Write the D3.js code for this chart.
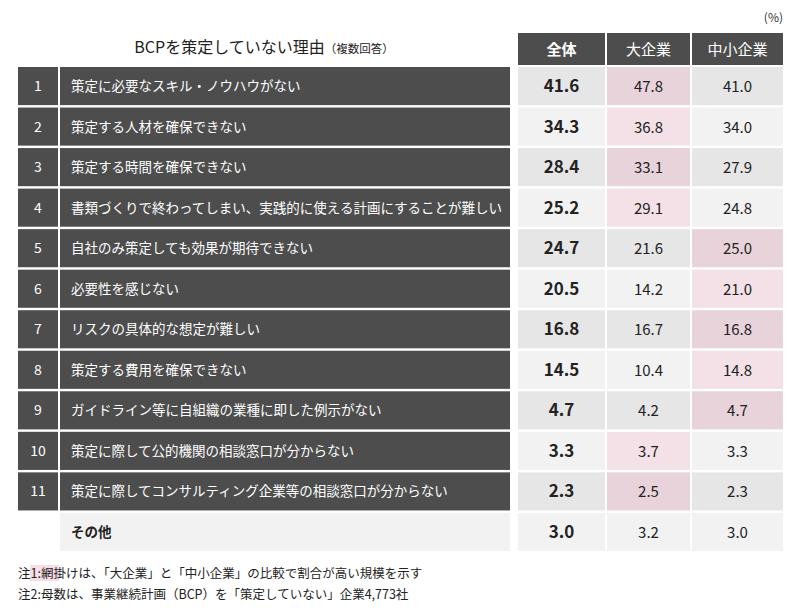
<!DOCTYPE html>
<html><head><meta charset="utf-8">
<script src="https://cdn.jsdelivr.net/npm/d3@7"></script>
<style>body{margin:0;background:#fff;font-family:"Noto Sans CJK JP",sans-serif}</style>
</head><body>
<script>
// 理由と割合（%）
var reasons = ["策定に必要なスキル・ノウハウがない","策定する人材を確保できない","策定する時間を確保できない",
  "書類づくりで終わってしまい、実践的に使える計画にすることが難しい","自社のみ策定しても効果が期待できない",
  "必要性を感じない","リスクの具体的な想定が難しい","策定する費用を確保できない",
  "ガイドライン等に自組織の業種に即した例示がない","策定に際して公的機関の相談窓口が分からない",
  "策定に際してコンサルティング企業等の相談窓口が分からない","その他"];
var total = [41.6,34.3,28.4,25.2,24.7,20.5,16.8,14.5,4.7,3.3,2.3,3.0];
var large = [47.8,36.8,33.1,29.1,21.6,14.2,16.7,10.4,4.2,3.7,2.5,3.2];
var small = [41.0,34.0,27.9,24.8,25.0,21.0,16.8,14.8,4.7,3.3,2.3,3.0];
var heads = ["全体","大企業","中小企業"];

var W = 800, H = 610;
var svg = d3.select("body").append("svg").attr("width", W).attr("height", H);

var y = d3.scaleBand().domain(d3.range(reasons.length)).range([67, 551]).paddingInner(0.06).paddingOuter(0);
var cols = [{x:518,w:87},{x:607,w:83},{x:692,w:91}];

svg.append("text").attr("x",783).attr("y",22).attr("text-anchor","end").attr("font-size",12).attr("fill","#333").text("(%)");
var t = svg.append("text").attr("x",264).attr("y",53).attr("text-anchor","middle").attr("fill","#222");
t.append("tspan").attr("font-size",16).text("BCPを策定していない理由");
t.append("tspan").attr("font-size",11.5).text("（複数回答）");

heads.forEach(function(h,i){
  svg.append("rect").attr("x",cols[i].x).attr("y",33).attr("width",cols[i].w).attr("height",32).attr("fill","#4d4d4d");
  svg.append("text").attr("x",cols[i].x+cols[i].w/2).attr("y",55).attr("text-anchor","middle")
    .attr("font-size",15).attr("font-weight", i==0?"bold":"normal").attr("fill","#fff").text(h);
});

reasons.forEach(function(r,i){
  var yy = y(i), hh = y.bandwidth(), last = i==reasons.length-1;
  var base = i%2==0 ? "#e6e6e6" : "#f2f2f2";
  if(!last){
    svg.append("rect").attr("x",18).attr("y",yy).attr("width",40).attr("height",hh).attr("fill","#4d4d4d");
    svg.append("rect").attr("x",60).attr("y",yy).attr("width",450).attr("height",hh).attr("fill","#4d4d4d");
    svg.append("text").attr("x",38).attr("y",yy+hh/2+5).attr("text-anchor","middle").attr("font-size",14).attr("fill","#fff").text(i+1);
    svg.append("text").attr("x",71).attr("y",yy+hh/2+5).attr("font-size",13.5).attr("fill","#fff").text(r);
  } else {
    svg.append("rect").attr("x",60).attr("y",yy).attr("width",450).attr("height",hh).attr("fill","#f2f2f2");
    svg.append("text").attr("x",71).attr("y",yy+hh/2+5).attr("font-size",13.5).attr("font-weight","bold").attr("fill","#222").text(r);
  }
  var vals = [total[i], large[i], small[i]];
  var hi = large[i]>small[i] ? 1 : (small[i]>large[i] ? 2 : -1);
  vals.forEach(function(v,j){
    var fill = base;
    if(!last && j==hi) fill = i%2==0 ? "#e8d3da" : "#f3e1e7";
    svg.append("rect").attr("x",cols[j].x).attr("y",yy).attr("width",cols[j].w).attr("height",hh).attr("fill",fill);
    svg.append("text").attr("x",cols[j].x+cols[j].w/2).attr("y",yy+hh/2+6).attr("text-anchor","middle")
      .attr("font-size", j==0?17:15).attr("font-weight", j==0?"bold":"normal").attr("fill","#222").text(v.toFixed(1));
  });
});

svg.append("rect").attr("x",30).attr("y",565).attr("width",29).attr("height",16).attr("fill","#f6dde6");
svg.append("text").attr("x",18).attr("y",578).attr("font-size",12.5).attr("fill","#222").text("注1:網掛けは、「大企業」と「中小企業」の比較で割合が高い規模を示す");
svg.append("text").attr("x",18).attr("y",599).attr("font-size",12.5).attr("fill","#222").text("注2:母数は、事業継続計画（BCP）を「策定していない」企業4,773社");
</script>
</body></html>
